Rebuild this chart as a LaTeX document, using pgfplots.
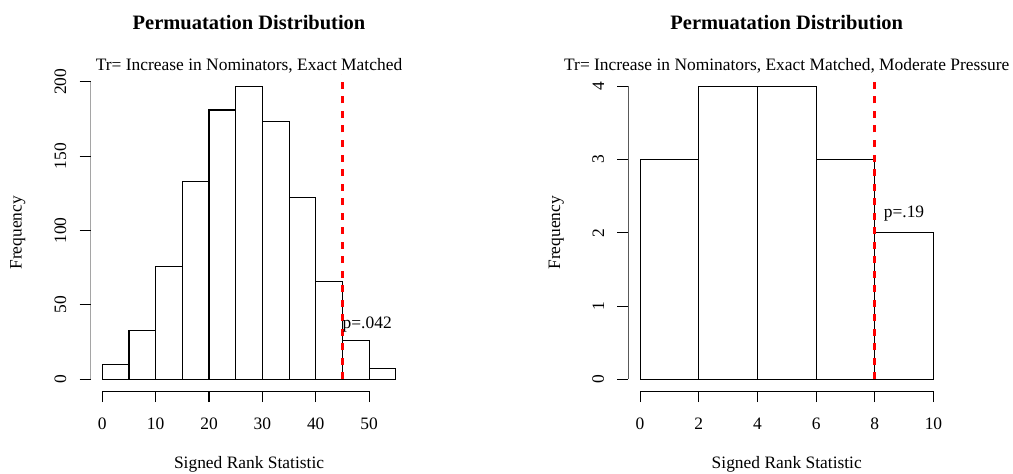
\documentclass[border=0pt]{standalone}
\usepackage{fontspec}
\setmainfont{Liberation Serif}
\usepackage{pgfplots}
\pgfplotsset{compat=1.18}

\pgfplotsset{
  rhist/.style={
    scale only axis,
    width=218.2pt, height=218.0pt,
    axis lines*=left,
    axis line style={draw=none},
    tick align=outside,
    major tick length=7.6pt,
    tick style={black, line width=0.75pt},
    /pgf/number format/assume math mode=true,
    ticklabel style={font=\fontsize{12}{14}\selectfont, inner sep=0pt},
    xticklabel style={anchor=base},
    yticklabel style={rotate=90, anchor=south},
    xticklabel shift=18.7pt,
    yticklabel shift=8.9pt,
  },
  rbar/.style={ybar interval, fill=white, draw=black, line width=0.75pt},
  pline/.style={red, line width=2pt, dash pattern=on 4.8pt off 5.2pt},
}

\begin{document}
\begin{tikzpicture}
\begin{axis}[rhist, at={(62.4pt,56.5pt)}, anchor=south west,
    xmin=-2.2, xmax=57.2, ymin=-7.88, ymax=204.88,
    xtick={0,10,20,30,40,50}, ytick={0,50,100,150,200}]
  \addplot[rbar] coordinates {
    (0,10)(5,33)(10,76)(15,133)(20,181)(25,197)
    (30,173)(35,122)(40,66)(45,26)(50,7)(55,7)
  };
  \addplot[pline] coordinates {(45,0)(45,210)};
  \draw[line width=0.75pt] (axis cs:0,-7.88) -- (axis cs:50,-7.88);
  \draw[line width=0.75pt] (axis cs:-2.2,0) -- (axis cs:-2.2,200);
  \node[anchor=base west, inner sep=0pt, font=\fontsize{12}{14}\selectfont]
    at (axis cs:45,34.3) {p=.042};
\end{axis}

\begin{axis}[rhist, at={(432.7pt,56.5pt)}, anchor=south west,
    xmin=-0.4, xmax=10.4, ymin=-0.16, ymax=4.16,
    xtick={0,2,4,6,8,10}, ytick={0,1,2,3,4}]
  \addplot[rbar] coordinates {
    (0,3)(2,4)(4,4)(6,3)(8,2)(10,2)
  };
  \addplot[pline] coordinates {(8,0)(8,5)};
  \draw[line width=0.75pt] (axis cs:0,-0.16) -- (axis cs:10,-0.16);
  \draw[line width=0.75pt] (axis cs:-0.4,0) -- (axis cs:-0.4,4);
  \node[anchor=base west, inner sep=0pt, font=\fontsize{12}{14}\selectfont]
    at (axis cs:8.3,2.21) {p=.19};
\end{axis}

\begin{scope}[every node/.style={font=\fontsize{12}{14}\selectfont, inner sep=0pt}]
  \node[anchor=base, font=\bfseries\fontsize{14.1}{17}\selectfont] at (171.5pt,305.8pt) {Permuatation Distribution};
  \node[anchor=base, font=\bfseries\fontsize{14.1}{17}\selectfont] at (541.8pt,305.8pt) {Permuatation Distribution};
  \node[anchor=base] at (171.5pt,277.5pt) {Tr= Increase in Nominators, Exact Matched};
  \node[anchor=base] at (541.8pt,277.5pt) {Tr= Increase in Nominators, Exact Matched, Moderate Pressure};
  \node[anchor=base, rotate=90] at (14.9pt,165.5pt) {Frequency};
  \node[anchor=base, rotate=90] at (385.7pt,165.5pt) {Frequency};
  \node[anchor=base] at (171.5pt,3.4pt) {Signed Rank Statistic};
  \node[anchor=base] at (541.8pt,3.4pt) {Signed Rank Statistic};
\end{scope}

\pgfresetboundingbox
\useasboundingbox (0,0) rectangle (697.6pt,325.8pt);
\end{tikzpicture}
\end{document}
